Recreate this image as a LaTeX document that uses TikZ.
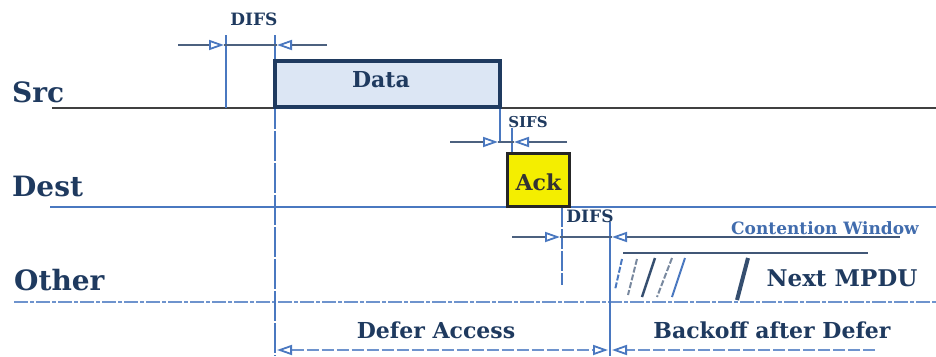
\documentclass[tikz,border=0pt]{standalone}
\usepackage{fontspec}
\setmainfont{DejaVu Serif}
\usepackage{xcolor}
\usepackage{tikz}
\usetikzlibrary{arrows.meta}

\definecolor{navy}{HTML}{1F3A5F}
\definecolor{lineblue}{HTML}{4A78C0}
\definecolor{boxblue}{HTML}{DCE6F4}
\definecolor{ackyellow}{HTML}{F4EE00}

\tikzset{
  station/.style={font=\fontsize{28}{30}\selectfont\bfseries, text=navy, inner sep=0pt, anchor=west},
  gaplabel/.style={font=\fontsize{17}{19}\selectfont\bfseries, text=navy, inner sep=0pt},
  framebox/.style={draw=navy, line width=3.5pt, inner sep=0pt},
  dimtip/.style={-{Triangle[open, length=15pt, width=10pt, line width=1.8pt, color=lineblue]}, line width=1.8pt, draw=navy!80},
  timeline/.style={line width=2pt, draw=lineblue}
}

\begin{document}
\begin{tikzpicture}[x=1pt,y=-1pt]
    \useasboundingbox (0,0) rectangle (936,356);

    % Station labels
    \node[station] (src) at (12,92) {Src};
    \node[station] (dest) at (12,186) {Dest};
    \node[station] (other) at (14,280) {Other};

    % Time lines of the stations
    \coordinate (srcA) at (52,108);   \coordinate (srcB) at (936,108);
    \coordinate (destA) at (50,207);  \coordinate (destB) at (936,207);
    \coordinate (othA) at (14,302);   \coordinate (othB) at (936,302);
    \draw[line width=2.2pt, black!75] (srcA) -- (srcB);
    \draw[line width=2.2pt, lineblue] (destA) -- (destB);
    \draw[line width=2pt, lineblue!80, dash pattern=on 14pt off 2pt on 4pt off 2pt] (othA) -- (othB);

    % Slot boundaries
    \draw[timeline] (226,35) -- (226,108);
    \draw[timeline, dash pattern=on 30pt off 2pt] (275,35) -- (275,356);
    \draw[timeline] (500,108) -- (500,142);
    \draw[timeline] (512,128) -- (512,153);
    \draw[timeline, dash pattern=on 20pt off 2pt] (562,207) -- (562,285);
    \draw[timeline] (610,222) -- (610,356);

    % Frames
    \node[framebox, fill=boxblue, minimum width=225pt, minimum height=46pt] (data) at (387.5,84) {};
    \node[font=\fontsize{22}{24}\selectfont\bfseries, text=navy] (datatext) at (381,80) {Data};
    \node[framebox, draw=black!85, line width=3pt, fill=ackyellow, minimum width=62pt, minimum height=53pt] (ack) at (538.5,180) {};
    \node[font=\fontsize{22}{24}\selectfont\bfseries, text=black!80] (acktext) at (538.5,182) {Ack};

    % DIFS before Data
    \node[gaplabel] (difs1) at (254,19) {DIFS};
    \coordinate (d1w) at (178,45); \coordinate (d1a) at (224,45);
    \coordinate (d1b) at (277,45); \coordinate (d1e) at (327,45);
    \draw[dimtip] (d1w) -- (d1a);
    \draw[line width=1.8pt, navy!80] (d1a) -- (d1b);
    \draw[dimtip] (d1e) -- (d1b);

    % SIFS before Ack
    \node[gaplabel, font=\fontsize{15}{17}\selectfont\bfseries] (sifs) at (528,122) {SIFS};
    \coordinate (s1w) at (450,142); \coordinate (s1a) at (498,142);
    \coordinate (s1b) at (514,142); \coordinate (s1e) at (567,142);
    \draw[dimtip] (s1w) -- (s1a);
    \draw[line width=1.8pt, navy!80] (s1a) -- (s1b);
    \draw[dimtip] (s1e) -- (s1b);

    % DIFS and contention window after Ack
    \node[gaplabel] (difs2) at (590,216) {DIFS};
    \node[gaplabel, text=lineblue!80!navy] (cw) at (825,228) {Contention Window};
    \coordinate (d2w) at (512,237); \coordinate (d2a) at (560,237);
    \coordinate (d2b) at (612,237); \coordinate (d2e) at (900,237);
    \coordinate (d2c) at (660,237);
    \draw[dimtip] (d2w) -- (d2a);
    \draw[line width=1.8pt, navy!80] (d2a) -- (d2b);
    \draw[dimtip] (d2c) -- (d2b);
    \draw[line width=2.2pt, navy!85] (d2c) -- (d2e);

    % Next MPDU with backoff slots
    \coordinate (mpduA) at (623,253); \coordinate (mpduB) at (868,253);
    \draw[line width=2.8pt, navy!85] (mpduA) -- (mpduB);
    \draw[line width=2pt, lineblue, dash pattern=on 6pt off 2pt] (622,259) -- (615,290);
    \draw[line width=2pt, navy!60, dash pattern=on 6pt off 2pt] (637,259) -- (628,295);
    \draw[line width=2.5pt, navy!90] (655,258) -- (642,297);
    \draw[line width=2pt, navy!60, dash pattern=on 6pt off 2pt] (672,258) -- (657,297);
    \draw[line width=2pt, lineblue] (685,258) -- (672,297);
    \draw[line width=4pt, navy!90] (748,258) -- (737,300);
    \node[font=\fontsize{23}{25}\selectfont\bfseries, text=navy] (mpdu) at (842,278) {Next MPDU};

    % Defer and backoff spans
    \node[font=\fontsize{22}{24}\selectfont\bfseries, text=navy] (defer) at (436,330) {Defer Access};
    \node[font=\fontsize{22}{24}\selectfont\bfseries, text=navy] (backoff) at (772,330) {Backoff after Defer};
    \coordinate (b1) at (277,350); \coordinate (b2) at (608,350);
    \coordinate (b3) at (612,350); \coordinate (b4) at (875,350);
    \draw[dimtip, {Triangle[open, length=15pt, width=10pt, line width=1.8pt, color=lineblue]}-{Triangle[open, length=15pt, width=10pt, line width=1.8pt, color=lineblue]}, draw=lineblue!80, dash pattern=on 12pt off 3pt] (b1) -- (b2);
    \draw[dimtip, draw=lineblue!80, dash pattern=on 12pt off 3pt] (b4) -- (b3);
\end{tikzpicture}
\end{document}
